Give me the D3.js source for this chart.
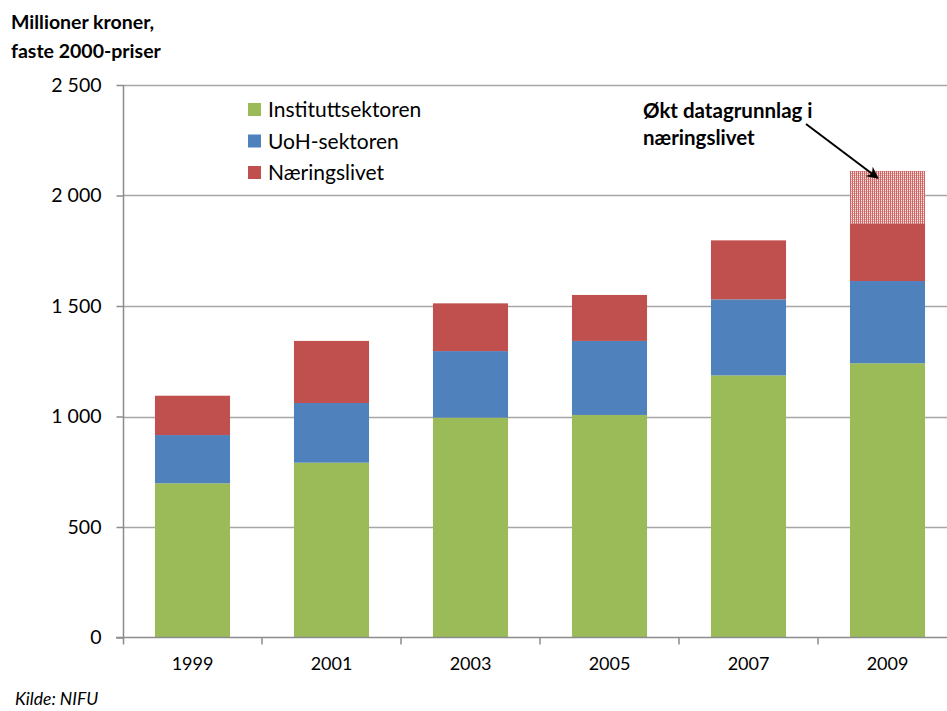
<!DOCTYPE html>
<html>
<head>
<meta charset="utf-8">
<script src="https://cdn.jsdelivr.net/npm/d3@7"></script>
<style>
  html, body { margin: 0; padding: 0; background: #fff; }
  svg { display: block; font-family: Lato, "Open Sans", sans-serif; }
</style>
</head>
<body>
<svg id="chart" width="947" height="711"></svg>
<script>
// ---- data ----
const years = ["1999", "2001", "2003", "2005", "2007", "2009"];
const instituttsektoren = [698, 791, 995, 1007, 1186, 1241];
const uohSektoren = [218, 270, 301, 335, 344, 372];
const naeringslivet = [178, 281, 216, 208, 267, 258];
const oktDatagrunnlag = [0, 0, 0, 0, 0, 240];
const seriesNames = ["Instituttsektoren", "UoH-sektoren", "Næringslivet"];
const yTicks = [0, 500, 1000, 1500, 2000, 2500];
const titleLines = ["Millioner kroner,", "faste 2000-priser"];
const annotationLines = ["Økt datagrunnlag i", "næringslivet"];
const sourceText = "Kilde: NIFU";

const colors = ["#9BBB59", "#4F81BD", "#C0504D"];

const rows = years.map((y, i) => ({
  year: y,
  s0: instituttsektoren[i],
  s1: uohSektoren[i],
  s2: naeringslivet[i],
  s3: oktDatagrunnlag[i]
}));

const svg = d3.select("#chart");

// pattern for the increased data base
const defs = svg.append("defs");
const pat = defs.append("pattern")
  .attr("id", "dots").attr("patternUnits", "userSpaceOnUse")
  .attr("width", 2).attr("height", 2);
pat.append("rect").attr("width", 2).attr("height", 2).attr("fill", "#CD6663");
pat.append("rect").attr("x", 1).attr("y", 0).attr("width", 1).attr("height", 1).attr("fill", "#ffffff").attr("opacity", 0.85);
pat.append("rect").attr("x", 1).attr("y", 1).attr("width", 1).attr("height", 1).attr("fill", "#ffffff").attr("opacity", 0.4);

const x = d3.scaleBand().domain(years).range([123, 957]).paddingInner(0.46).paddingOuter(0.23);
const y = d3.scaleLinear().domain([0, 2500]).range([637.5, 85]);

// gridlines
svg.append("g").selectAll("line").data(yTicks.filter(t => t > 0)).join("line")
  .attr("x1", 123).attr("x2", 957)
  .attr("y1", d => Math.round(y(d)) + 0.5).attr("y2", d => Math.round(y(d)) + 0.5)
  .attr("stroke", "#A6A6A6").attr("stroke-width", 1.5);

// stacked bars
const stack = d3.stack().keys(["s0", "s1", "s2", "s3"]);
const stacked = stack(rows);
const fills = [colors[0], colors[1], colors[2], "url(#dots)"];
svg.append("g").selectAll("g").data(stacked).join("g")
  .attr("fill", (d, i) => fills[i])
  .selectAll("rect").data(d => d.filter(v => v[1] - v[0] > 0)).join("rect")
  .attr("x", d => x(d.data.year))
  .attr("width", x.bandwidth())
  .attr("y", d => y(d[1]))
  .attr("height", d => y(d[0]) - y(d[1]));

// y axis
const yAxis = d3.axisLeft(y).tickValues(yTicks).tickSize(7).tickPadding(15)
  .tickFormat(d => d3.format(",")(d).replace(/,/g, " "));
const gy = svg.append("g").attr("transform", "translate(123.5,0)").call(yAxis);
gy.select(".domain").attr("stroke", "#8C8C8C").attr("stroke-width", 1.5).attr("d", `M0,${y(2500)}V${y(0) + 7}`);
gy.selectAll(".tick line").attr("stroke", "#8C8C8C").attr("stroke-width", 1.5);
gy.selectAll(".tick text").attr("font-size", 19.5).attr("fill", "#000").attr("font-family", "Lato");

// x axis
const xAxis = d3.axisBottom(x).tickSize(0).tickPadding(20);
const gx = svg.append("g").attr("transform", `translate(0,${y(0)})`).call(xAxis);
gx.select(".domain").attr("stroke", "#8C8C8C").attr("stroke-width", 1.5).attr("d", `M116,0H957`);
gx.selectAll(".tick text").attr("font-size", 18).attr("fill", "#000").attr("font-family", "Lato");
// boundary ticks between categories
svg.append("g").selectAll("line").data(years.slice(1)).join("line")
  .attr("x1", d => x(d) - (x.step() - x.bandwidth()) / 2)
  .attr("x2", d => x(d) - (x.step() - x.bandwidth()) / 2)
  .attr("y1", y(0)).attr("y2", y(0) + 7)
  .attr("stroke", "#8C8C8C").attr("stroke-width", 1.5);

// title
svg.append("g").selectAll("text").data(titleLines).join("text")
  .attr("x", 11).attr("y", (d, i) => 29 + i * 29)
  .attr("font-size", 19.5).attr("font-weight", "bold").attr("fill", "#000")
  .text(d => d);

// legend
const lg = svg.append("g").attr("transform", "translate(248,0)");
seriesNames.forEach((n, i) => {
  const yy = 117 + i * 31.5;
  lg.append("rect").attr("x", 0).attr("y", yy - 14).attr("width", 13).attr("height", 13).attr("fill", colors[i]);
  lg.append("text").attr("x", 20).attr("y", yy).attr("font-size", 21).attr("fill", "#000").text(n);
});

// annotation
svg.append("g").selectAll("text").data(annotationLines).join("text")
  .attr("x", 643).attr("y", (d, i) => 118 + i * 27)
  .attr("font-size", 20.5).attr("font-weight", "bold").attr("fill", "#000")
  .text(d => d);

defs.append("marker").attr("id", "arrow").attr("viewBox", "0 0 10 10")
  .attr("refX", 9).attr("refY", 5).attr("markerWidth", 6).attr("markerHeight", 6)
  .attr("orient", "auto")
  .append("path").attr("d", "M0,0L10,5L0,10L3,5Z").attr("fill", "#000");

const tipX = x("2009") + x.bandwidth() * 0.37;
const tipY = y(naeringslivet[5] + uohSektoren[5] + instituttsektoren[5] + oktDatagrunnlag[5]) + 7;
svg.append("line")
  .attr("x1", 806).attr("y1", 124).attr("x2", tipX).attr("y2", tipY)
  .attr("stroke", "#000").attr("stroke-width", 2)
  .attr("marker-end", "url(#arrow)");

// source
svg.append("text").attr("x", 15).attr("y", 705)
  .attr("font-size", 17.5).attr("font-style", "italic").attr("fill", "#000")
  .text(sourceText);
</script>
</body>
</html>
